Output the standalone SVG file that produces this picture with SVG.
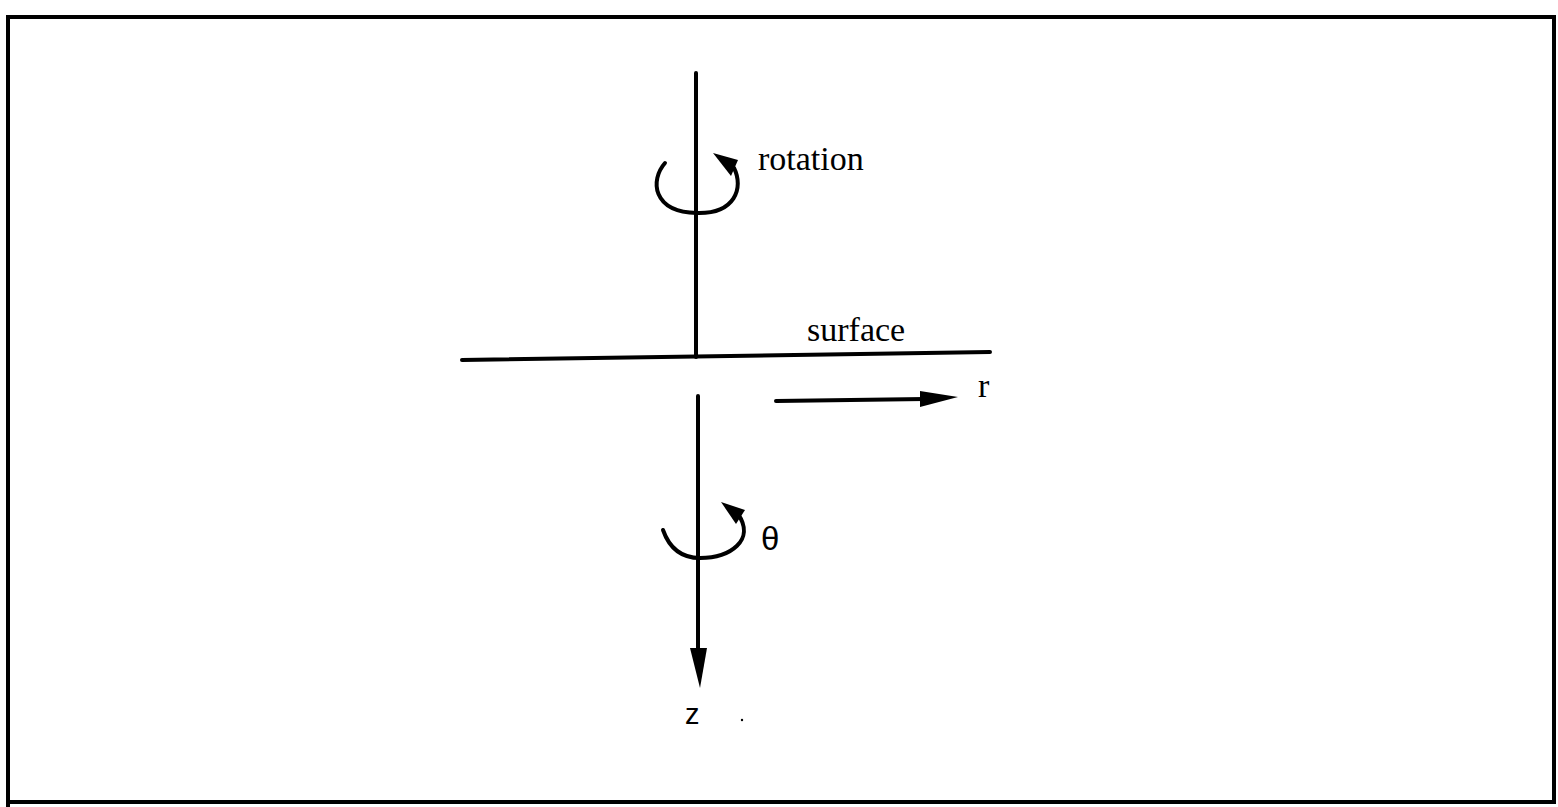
<svg xmlns="http://www.w3.org/2000/svg" width="1558" height="807" viewBox="0 0 1558 807">
<style>
.ln{stroke:#000;fill:none;stroke-linecap:round}
.t{font-family:"Liberation Serif",serif;fill:#000}
.s{font-family:"Liberation Sans",sans-serif;fill:#000}
</style>
<rect width="1558" height="807" fill="#fff"/>
<g id="frame"><path class="ln" d="M8,807 V17 H1554 V802 H8" stroke-width="4" stroke-linecap="butt"/></g>
<g id="connectors">
<line class="ln" x1="696" y1="73" x2="696" y2="357" stroke-width="4"/>
<path class="ln" d="M462,360 L990,352" stroke-width="4"/>
<line class="ln" x1="698" y1="396" x2="698" y2="650" stroke-width="4"/>
<polygon points="690,648 707,648 700,688" fill="#000"/>
<line class="ln" x1="776" y1="401" x2="925" y2="399" stroke-width="4"/>
<polygon points="920,391 958,397 920,407" fill="#000"/>
</g>
<g id="rotation">
<path class="ln" d="M665,163 C650,180 652,212 697,213 C735,214 744,188 734,168" stroke-width="4"/>
<polygon points="713,153 738,160 731,176" fill="#000"/>
<text class="t" x="758" y="170" font-size="34">rotation</text>
</g>
<g id="surface"><text class="t" x="807" y="341" font-size="34">surface</text></g>
<g id="r"><text class="t" x="978" y="397" font-size="34">r</text></g>
<g id="theta">
<path class="ln" d="M663,530 C670,550 684,558 700,558 C730,558 756,540 738,514" stroke-width="4"/>
<polygon points="721,502 745,510 736,524" fill="#000"/>
<text class="s" x="761" y="550" font-size="33">θ</text>
</g>
<g id="z"><text class="s" x="685" y="724" font-size="29">z</text>
<circle cx="742" cy="720" r="1.2" fill="#000"/></g>
</svg>
